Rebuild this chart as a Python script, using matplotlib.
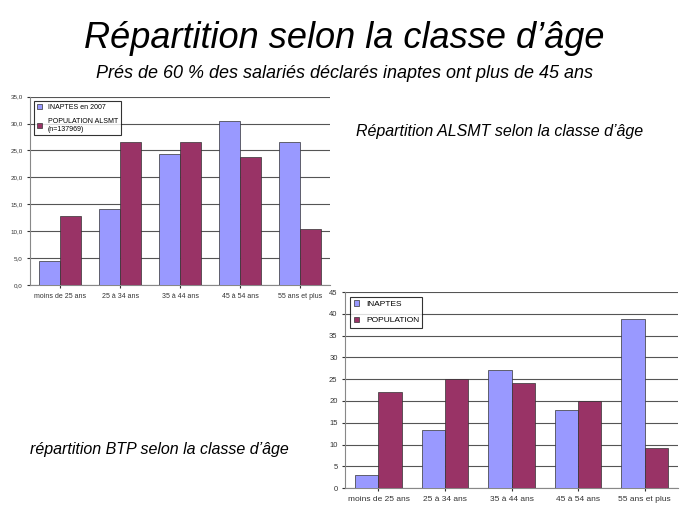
import matplotlib
matplotlib.use("Agg")
import matplotlib.pyplot as plt
import numpy as np

plt.rcParams['font.family'] = ['Liberation Sans', 'DejaVu Sans']

categories = ["moins de 25 ans", "25 à 34 ans", "35 à 44 ans", "45 à 54 ans", "55 ans et plus"]
alsmt_inaptes = [4.4, 14.1, 24.4, 30.5, 26.6]
alsmt_population = [12.8, 26.6, 26.6, 23.7, 10.4]
btp_inaptes = [3.0, 13.4, 27.0, 18.0, 38.9]
btp_population = [22.0, 25.0, 24.2, 20.0, 9.1]

C1, C2 = "#9999ff", "#993366"
fig = plt.figure(figsize=(6.89, 5.17), dpi=100)
fig.text(0.5, 0.925, "Répartition selon la classe d’âge", ha="center", va="center", fontsize=26, style="italic")
fig.text(0.5, 0.858, "Prés de 60 % des salariés déclarés inaptes ont plus de 45 ans", ha="center", va="center", fontsize=13, style="italic")
fig.text(0.725, 0.745, "Répartition ALSMT selon la classe d’âge", ha="center", va="center", fontsize=11.5, style="italic")
fig.text(0.232, 0.13, "répartition BTP selon la classe d’âge", ha="center", va="center", fontsize=11.5, style="italic")

def draw(ax, a, b, labels, ymax, step, fmt, fs):
    x = np.arange(len(categories))
    w = 0.35
    ax.bar(x - w/2, a, w, color=C1, edgecolor="#333333", linewidth=0.5, label=labels[0], zorder=3)
    ax.bar(x + w/2, b, w, color=C2, edgecolor="#333333", linewidth=0.5, label=labels[1], zorder=3)
    ax.set_xlim(-0.5, len(categories) - 0.5)
    ax.set_ylim(0, ymax)
    ticks = np.arange(0, ymax + 0.01, step)
    ax.set_yticks(ticks)
    ax.set_yticklabels([fmt(t) for t in ticks], fontsize=fs)
    ax.set_xticks(x)
    ax.set_xticklabels(categories, fontsize=fs + 0.5)
    ax.yaxis.grid(True, color="#555555", linewidth=0.8, zorder=0)
    for s in ["top", "right"]:
        ax.spines[s].set_visible(False)
    ax.spines["left"].set_color("#888888")
    ax.spines["bottom"].set_color("#888888")
    ax.tick_params(length=2, colors="#333333")
    leg = ax.legend(loc="upper left", fontsize=fs + 0.5, fancybox=False, edgecolor="black",
                    handlelength=0.7, handleheight=0.7, labelspacing=1.0, borderaxespad=0.6)
    leg.get_frame().set_linewidth(0.8)

ax1 = fig.add_axes([0.044, 0.449, 0.435, 0.364])
draw(ax1, alsmt_inaptes, alsmt_population, ["INAPTES en 2007", "POPULATION ALSMT\n(n=137969)"], 35, 5,
     lambda t: f"{t:.1f}".replace(".", ","), 4.5)
ax2 = fig.add_axes([0.501, 0.056, 0.483, 0.379])
draw(ax2, btp_inaptes, btp_population, ["INAPTES", "POPULATION"], 45, 5, lambda t: f"{int(t)}", 5.5)
fig.savefig("out.png", dpi=100)
